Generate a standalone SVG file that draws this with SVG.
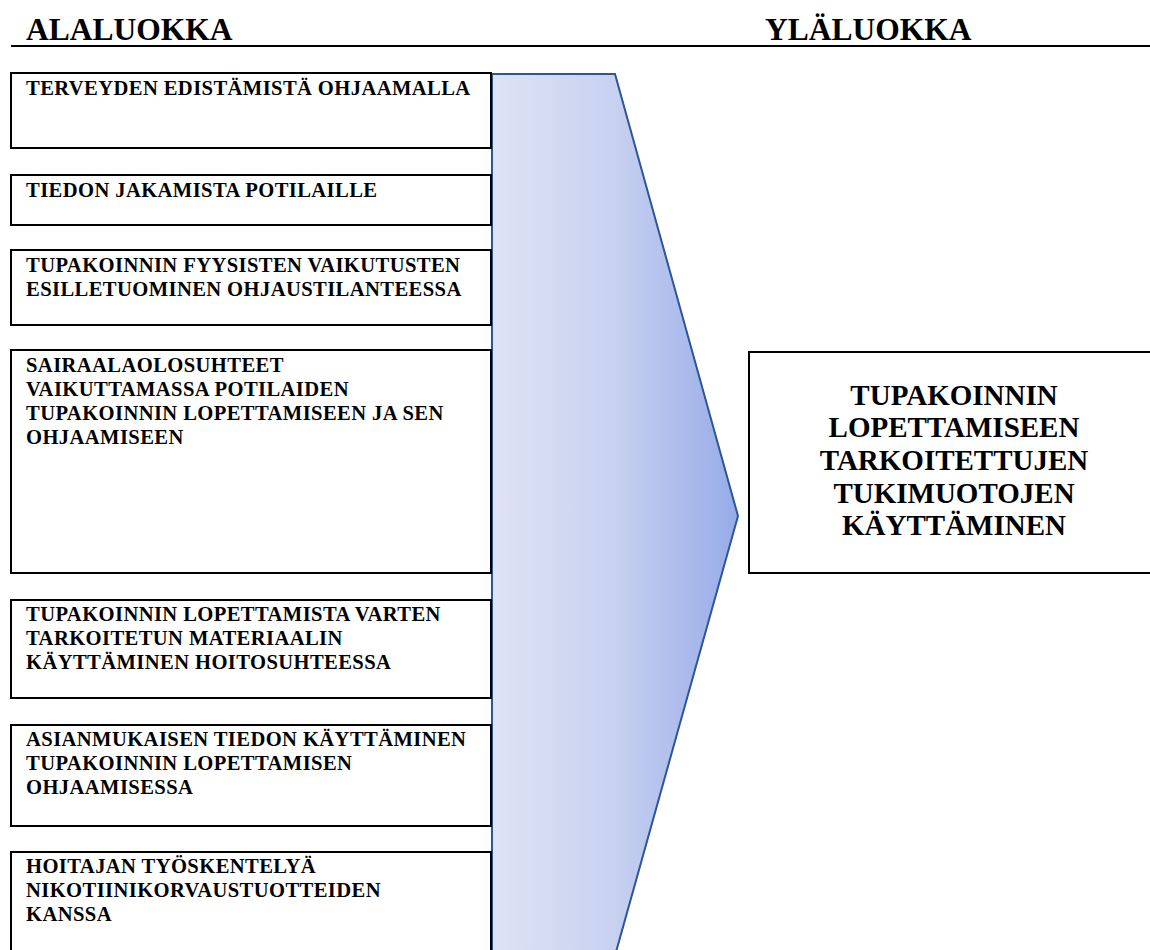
<svg xmlns="http://www.w3.org/2000/svg" width="1150" height="950" viewBox="0 0 1150 950">
<style>
.h{font-family:"Liberation Serif","Times New Roman",serif;font-weight:bold;font-size:31.5px;fill:#000}
.t{font-family:"Liberation Serif","Times New Roman",serif;font-weight:bold;font-size:20.6px;letter-spacing:0.4px;fill:#000}
.r{font-family:"Liberation Serif","Times New Roman",serif;font-weight:bold;font-size:29px;fill:#000;text-anchor:middle}
.box{fill:#fff;stroke:#000;stroke-width:2}
</style>
<defs>
<linearGradient id="g" x1="0" y1="0" x2="1" y2="0">
<stop offset="0" stop-color="#dfe3f5"/>
<stop offset="0.5" stop-color="#c7d1f0"/>
<stop offset="1" stop-color="#96abe8"/>
</linearGradient>
</defs>
<rect width="1150" height="950" fill="#fff"/>
<g id="header">
<text class="h" x="26" y="40">ALALUOKKA</text>
<text class="h" x="765" y="40">YLÄLUOKKA</text>
<line x1="11" y1="46" x2="1150" y2="46" stroke="#000" stroke-width="2"/>
</g>
<g id="arrow">
<path d="M492 74 L615 74 L738 516 L616 952 L492 952 Z" fill="url(#g)" stroke="#2f5597" stroke-width="2"/>
</g>
<g id="n1"><rect class="box" x="11" y="73" width="480" height="75"/>
<text class="t" x="26" y="95">TERVEYDEN EDISTÄMISTÄ OHJAAMALLA</text></g>
<g id="n2"><rect class="box" x="11" y="175" width="480" height="50"/>
<text class="t" x="26" y="197">TIEDON JAKAMISTA POTILAILLE</text></g>
<g id="n3"><rect class="box" x="11" y="250" width="480" height="75"/>
<text class="t" x="26" y="272">TUPAKOINNIN FYYSISTEN VAIKUTUSTEN</text>
<text class="t" x="26" y="296">ESILLETUOMINEN OHJAUSTILANTEESSA</text></g>
<g id="n4"><rect class="box" x="11" y="350" width="480" height="223"/>
<text class="t" x="26" y="372">SAIRAALAOLOSUHTEET</text>
<text class="t" x="26" y="396">VAIKUTTAMASSA POTILAIDEN</text>
<text class="t" x="26" y="420">TUPAKOINNIN LOPETTAMISEEN JA SEN</text>
<text class="t" x="26" y="444">OHJAAMISEEN</text></g>
<g id="n5"><rect class="box" x="11" y="600" width="480" height="98"/>
<text class="t" x="26" y="621">TUPAKOINNIN LOPETTAMISTA VARTEN</text>
<text class="t" x="26" y="645">TARKOITETUN MATERIAALIN</text>
<text class="t" x="26" y="669">KÄYTTÄMINEN HOITOSUHTEESSA</text></g>
<g id="n6"><rect class="box" x="11" y="725" width="480" height="101"/>
<text class="t" x="26" y="746">ASIANMUKAISEN TIEDON KÄYTTÄMINEN</text>
<text class="t" x="26" y="770">TUPAKOINNIN LOPETTAMISEN</text>
<text class="t" x="26" y="794">OHJAAMISESSA</text></g>
<g id="n7"><rect class="box" x="11" y="852" width="480" height="110"/>
<text class="t" x="26" y="873">HOITAJAN TYÖSKENTELYÄ</text>
<text class="t" x="26" y="897">NIKOTIINIKORVAUSTUOTTEIDEN</text>
<text class="t" x="26" y="921">KANSSA</text></g>
<g id="n8"><rect class="box" x="749" y="352" width="410" height="221"/>
<text class="r" x="954" y="405">TUPAKOINNIN</text>
<text class="r" x="954" y="437">LOPETTAMISEEN</text>
<text class="r" x="954" y="470">TARKOITETTUJEN</text>
<text class="r" x="954" y="503">TUKIMUOTOJEN</text>
<text class="r" x="954" y="535">KÄYTTÄMINEN</text></g>
</svg>
